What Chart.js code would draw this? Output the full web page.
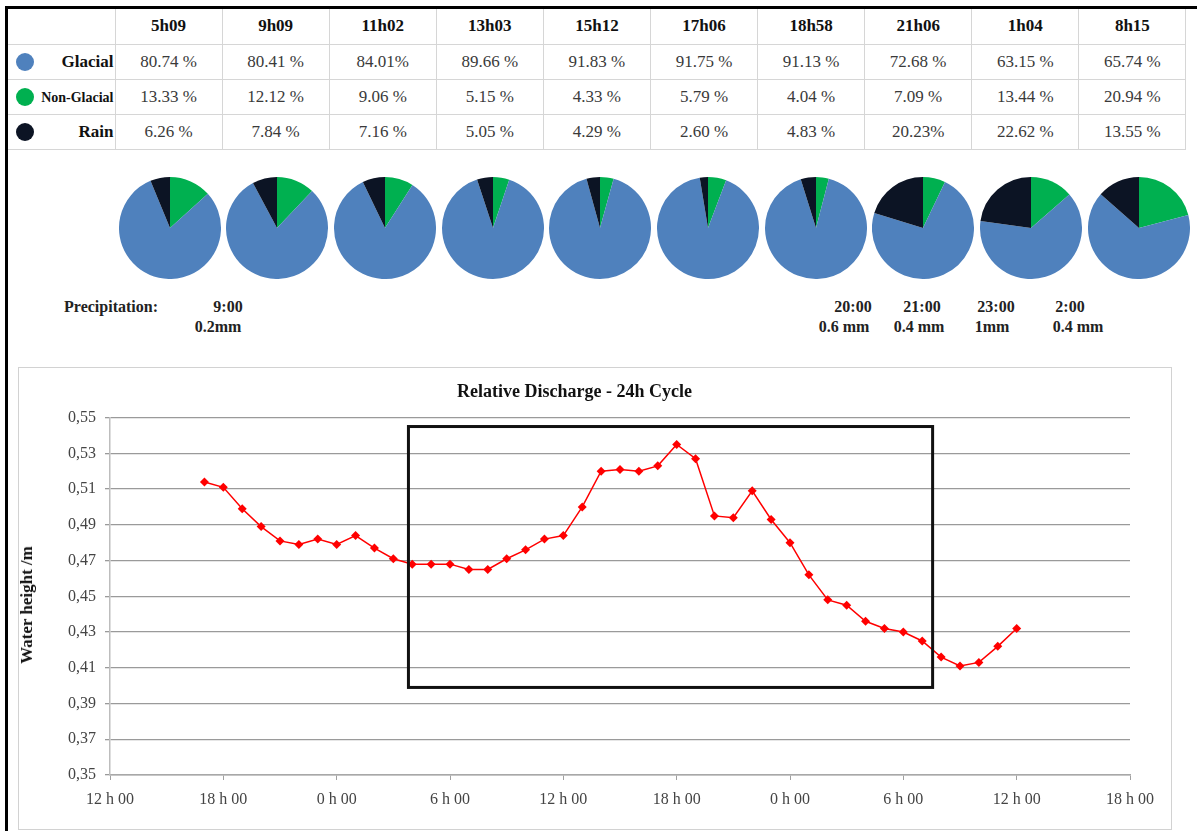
<!DOCTYPE html>
<html>
<head>
<meta charset="utf-8">
<script src="https://cdn.jsdelivr.net/npm/chart.js@4.4.0/dist/chart.umd.min.js"></script>
<style>
  html, body { margin:0; padding:0; background:#fff; }
  body { width:1197px; height:831px; position:relative; overflow:hidden;
         font-family:'Liberation Serif','Times New Roman',serif; }
  #frame { position:absolute; left:5px; top:6px; width:1300px; height:900px;
           border-left:3px solid #000; border-top:3px solid #000; }
  #tbl { position:absolute; left:8px; top:9px; border-collapse:collapse; table-layout:fixed; width:1178px;
         font-family:'Liberation Serif','Times New Roman',serif; }
  #tbl td { border:1px solid #d6d6d6; padding:0; text-align:center; font-size:17px; color:#3a3a3a;
            height:34px; white-space:nowrap; font-family:'Liberation Serif','Times New Roman',serif; }
  #tbl tr:first-child td { font-weight:bold; color:#111; border-top:none; }
  #tbl td.lab { position:relative; text-align:right; font-weight:bold; color:#111; padding-right:1px; border-left:none; }
  .dot { position:absolute; left:8px; top:50%; width:18px; height:18px; margin-top:-9px; border-radius:50%; }
  .pie { position:absolute; }
  .ptxt { position:absolute; font-weight:bold; font-size:16px; color:#222; white-space:nowrap; transform:translate(-50%,-50%);
          font-family:'Liberation Serif','Times New Roman',serif; }
  #chartBox { position:absolute; left:18px; top:367px; width:1152px; height:461px; border:1px solid #d2d2d2; }
  #chartBox canvas { position:absolute; left:0; top:0; }
  #ytitle { position:absolute; left:27px; top:605px; font-weight:bold; font-size:17px; color:#111;
            transform:translate(-50%,-50%) rotate(-90deg); white-space:nowrap;
            font-family:'Liberation Serif','Times New Roman',serif; }
</style>
</head>
<body>
<div id="frame"></div>
<table id="tbl"></table>
<div id="pies"></div>
<div id="precip"></div>
<div id="chartBox"><canvas id="lc" width="1152" height="461"></canvas></div>
<div id="ytitle">Water height /m</div>

<script>
// ---------------- DATA ----------------
const sampleTimes   = ['5h09','9h09','11h02','13h03','15h12','17h06','18h58','21h06','1h04','8h15'];
const glacial       = [80.74, 80.41, 84.01, 89.66, 91.83, 91.75, 91.13, 72.68, 63.15, 65.74];
const nonGlacial    = [13.33, 12.12, 9.06, 5.15, 4.33, 5.79, 4.04, 7.09, 13.44, 20.94];
const rain          = [6.26, 7.84, 7.16, 5.05, 4.29, 2.60, 4.83, 20.23, 22.62, 13.55];
const compactCells  = ['glacial-2','rain-7'];   // cells written without a space before "%"

const precipTimes   = ['9:00','20:00','21:00','23:00','2:00'];
const precipAmounts = ['0.2mm','0.6 mm','0.4 mm','1mm','0.4 mm'];

// hours elapsed since 12h00 on day 1
const hours  = [5,6,7,8,9,10,11,12,13,14,15,16,17,18,19,20,21,22,23,24,25,26,27,28,29,30,
                31,32,33,34,35,36,37,38,39,40,41,42,43,44,45,46,47,48];
const levels = [0.514,0.511,0.499,0.489,0.481,0.479,0.482,0.479,0.484,0.477,0.471,0.468,0.468,0.468,
                0.465,0.465,0.471,0.476,0.482,0.484,0.500,0.520,0.521,0.520,0.523,0.535,0.527,0.495,
                0.494,0.509,0.493,0.480,0.462,0.448,0.445,0.436,0.432,0.430,0.425,0.416,0.411,0.413,
                0.422,0.432];

const xTickHours  = [0,6,12,18,24,30,36,42,48,54];
const xTickLabels = ['12 h 00','18 h 00','0 h 00','6 h 00','12 h 00','18 h 00','0 h 00','6 h 00','12 h 00','18 h 00'];
const yTickValues = [0.35,0.37,0.39,0.41,0.43,0.45,0.47,0.49,0.51,0.53,0.55];
const yTickLabels = ['0,35','0,37','0,39','0,41','0,43','0,45','0,47','0,49','0,51','0,53','0,55'];

const boxHours  = [15.8, 43.55];
const boxLevels = [0.399, 0.545];

// ---------------- STYLE ----------------
const SERIF = "'Liberation Serif','Times New Roman',serif";
const BLUE = '#4f81bd', GREEN = '#00b050', DARK = '#0c1424';

// ---------------- TABLE ----------------
const tbl = document.getElementById('tbl');
let html = '<colgroup><col style="width:107px">' + sampleTimes.map(()=>'<col style="width:107.1px">').join('') + '</colgroup>';
html += '<tr style="height:35px"><td style="border-left:none"></td>' + sampleTimes.map(t=>'<td>'+t+'</td>').join('') + '</tr>';
const rows = [
  {key:'glacial', name:'Glacial', vals:glacial, color:BLUE, size:17},
  {key:'nonglacial', name:'Non-Glacial', vals:nonGlacial, color:GREEN, size:14},
  {key:'rain', name:'Rain', vals:rain, color:DARK, size:17}
];
rows.forEach((r,ri)=>{
  html += '<tr style="height:'+(ri<2?35:34)+'px"><td class="lab"><span class="dot" style="background:'+r.color+'"></span>' +
          '<span style="font-size:'+r.size+'px">'+r.name+'</span></td>';
  r.vals.forEach((v,i)=>{
    const sep = compactCells.includes(r.key+'-'+i) ? '' : ' ';
    html += '<td>'+v.toFixed(2)+sep+'%</td>';
  });
  html += '</tr>';
});
tbl.innerHTML = html;

// ---------------- PIES ----------------
const pies = document.getElementById('pies');
const pieCx0 = 169.5, pieStep = 107.7, pieCy = 227.5, pieSize = 102;
sampleTimes.forEach((t,i)=>{
  const c = document.createElement('canvas');
  c.width = pieSize; c.height = pieSize; c.className = 'pie';
  c.style.left = (pieCx0 + i*pieStep - pieSize/2) + 'px';
  c.style.top  = (pieCy - pieSize/2) + 'px';
  pies.appendChild(c);
  new Chart(c, {
    type:'pie',
    data:{ labels:['Non-Glacial','Glacial','Rain'],
           datasets:[{ data:[nonGlacial[i], glacial[i], rain[i]],
                       backgroundColor:[GREEN, BLUE, DARK], borderWidth:0 }] },
    options:{ responsive:false, animation:false, events:[],
              layout:{padding:0},
              plugins:{ legend:{display:false}, tooltip:{enabled:false} } }
  });
});

// ---------------- PRECIPITATION TEXT ----------------
const precip = document.getElementById('precip');
const timeX = [228, 853, 922, 996, 1070];
const amtX  = [218, 844, 919, 992, 1078];
let ph = '<div class="ptxt" style="left:111px;top:307px">Precipitation:</div>';
precipTimes.forEach((t,i)=>{
  ph += '<div class="ptxt" style="left:'+timeX[i]+'px;top:307px">'+t+'</div>';
  ph += '<div class="ptxt" style="left:'+amtX[i]+'px;top:327px">'+precipAmounts[i]+'</div>';
});
precip.innerHTML = ph;

// ---------------- LINE CHART ----------------
const boxPlugin = {
  id:'highlightBox',
  afterDatasetsDraw(chart){
    const {ctx, scales:{x, y}} = chart;
    const x0 = x.getPixelForValue(boxHours[0]), x1 = x.getPixelForValue(boxHours[1]);
    const y0 = y.getPixelForValue(boxLevels[1]), y1 = y.getPixelForValue(boxLevels[0]);
    ctx.save();
    ctx.strokeStyle = '#111';
    ctx.lineWidth = 3;
    ctx.strokeRect(x0, y0, x1 - x0, y1 - y0);
    ctx.restore();
  }
};

new Chart(document.getElementById('lc'), {
  type:'line',
  data:{ datasets:[{
    data: hours.map((h,i)=>({x:h, y:levels[i]})),
    borderColor:'#ff0000', backgroundColor:'#ff0000', borderWidth:1.5,
    pointStyle:'rectRot', pointRadius:4.5, pointBorderWidth:0,
    pointBackgroundColor:'#ff0000', tension:0
  }]},
  options:{
    responsive:false, animation:false, events:[],
    layout:{ padding:{left:0, right:41, top:0, bottom:0} },
    plugins:{
      legend:{display:false}, tooltip:{enabled:false},
      title:{ display:true, text:'Relative Discharge - 24h Cycle', color:'#111',
              font:{family:SERIF, size:18, weight:'bold', lineHeight:1.2},
              padding:{top:14, bottom:14} }
    },
    scales:{
      x:{
        type:'linear', min:0, max:54,
        afterBuildTicks:s=>{ s.ticks = xTickHours.map(v=>({value:v})); },
        afterFit:s=>{ s.height = 54; },
        grid:{ display:true, drawOnChartArea:false, drawTicks:true, tickLength:5, color:'#a0a0a0' },
        border:{ color:'#a8a8a8', width:1.5 },
        ticks:{ padding:10, color:'#444', maxRotation:0, autoSkip:false,
                font:{family:SERIF, size:16},
                callback:(v,i)=>xTickLabels[i] }
      },
      y:{
        min:0.35, max:0.55,
        afterBuildTicks:s=>{ s.ticks = yTickValues.map(v=>({value:v})); },
        afterFit:s=>{ s.width = 91; },
        grid:{ color:'#9a9a9a', lineWidth:1.3, tickLength:5 },
        border:{ color:'#bdbdbd', width:1.5 },
        ticks:{ padding:9, color:'#444', font:{family:SERIF, size:16},
                callback:(v,i)=>yTickLabels[i] }
      }
    }
  },
  plugins:[boxPlugin]
});
</script>
</body>
</html>
